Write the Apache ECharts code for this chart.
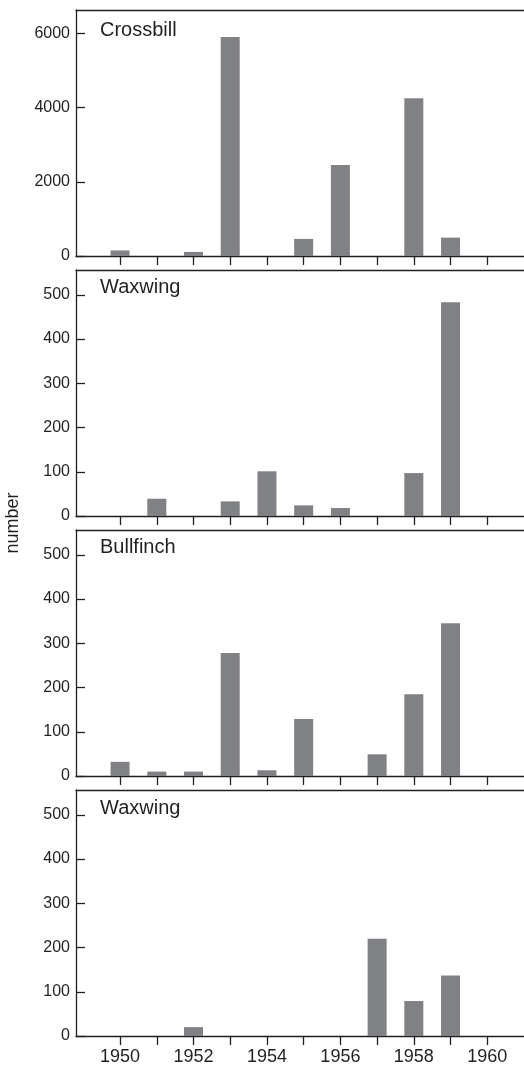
<!DOCTYPE html>
<html>
<head>
<meta charset="utf-8">
<script src="https://cdn.jsdelivr.net/npm/echarts@6/dist/echarts.min.js"></script>
<style>
html,body{margin:0;padding:0;background:#fff;}
#c{width:524px;height:1068px;}
</style>
</head>
<body>
<div id="c"></div>
<script>
// ---- data ----
const years = [1950, 1951, 1952, 1953, 1954, 1955, 1956, 1957, 1958, 1959, 1960];
const panelNames = ['Crossbill', 'Waxwing', 'Bullfinch', 'Waxwing'];
const crossbill = [150, 0, 110, 5900, 0, 460, 2450, 0, 4250, 495, 0];
const waxwingA  = [0, 39, 0, 33, 101, 24, 18, 0, 97, 483, 0];
const bullfinch = [32, 10, 10, 278, 13, 129, 0, 49, 185, 345, 0];
const waxwingB  = [0, 0, 20, 0, 0, 0, 0, 220, 79, 137, 0];
const yTicksCrossbill = [0, 2000, 4000, 6000];
const yTicksSmall = [0, 100, 200, 300, 400, 500];
const xTickYears = [1950, 1951, 1952, 1953, 1954, 1955, 1956, 1957, 1958, 1959, 1960];
const xLabelYears = [1950, 1952, 1954, 1956, 1958, 1960];
const yAxisLabel = 'number';

// ---- layout ----
const seriesValues = [crossbill, waxwingA, bullfinch, waxwingB];
const yMax = [6630, 556, 556, 556];
const yTicks = [yTicksCrossbill, yTicksSmall, yTicksSmall, yTicksSmall];
const tops = [10, 270, 530, 790];
const H = 246;
const LINE = '#231f20';
const FONT = 'Liberation Sans, Arial, Helvetica, sans-serif';
const XMIN = 1948.8, XMAX = 1961;

const grid = [], xAxis = [], yAxis = [], series = [], graphic = [];
seriesValues.forEach((vals, i) => {
  grid.push({left: 76, right: 0, top: tops[i], height: H});
  const last = i === seriesValues.length - 1;
  xAxis.push({
    type: 'value', gridIndex: i, min: XMIN, max: XMAX, position: 'bottom',
    axisLine: {show: true, onZero: false, lineStyle: {color: LINE, width: 1.3}},
    axisTick: {show: true, inside: false, length: 9, customValues: xTickYears,
               lineStyle: {color: LINE, width: 1.3}},
    axisLabel: {show: last, customValues: xLabelYears, margin: 12,
                fontSize: 18, fontFamily: FONT, color: LINE,
                formatter: v => String(v)},
    splitLine: {show: false}
  });
  xAxis.push({
    type: 'value', gridIndex: i, min: XMIN, max: XMAX, position: 'top',
    axisLine: {show: true, onZero: false, lineStyle: {color: LINE, width: 1.3}},
    axisTick: {show: false}, axisLabel: {show: false}, splitLine: {show: false}
  });
  yAxis.push({
    type: 'value', gridIndex: i, min: 0, max: yMax[i],
    axisLine: {show: true, onZero: false, lineStyle: {color: LINE, width: 1.3}},
    axisTick: {show: true, inside: true, length: 9, customValues: yTicks[i],
               lineStyle: {color: LINE, width: 1.3}},
    axisLabel: {customValues: yTicks[i], margin: 6, fontSize: 16,
                fontFamily: FONT, color: LINE, formatter: v => String(v)},
    splitLine: {show: false}
  });
  series.push({
    type: 'bar', xAxisIndex: i * 2, yAxisIndex: i,
    barWidth: 19,
    itemStyle: {color: '#808185'},
    data: years.map((y, k) => [y, vals[k]]),
    silent: true
  });
  const capMid = [31, 288, 548, 809][i];
  graphic.push({
    type: 'text', left: 100, top: capMid - 11,
    style: {text: panelNames[i], fontSize: 20, fontFamily: FONT, fill: LINE}
  });
});
graphic.push({
  type: 'text', x: 4, y: 523, rotation: Math.PI / 2,
  style: {text: yAxisLabel, fontSize: 18, fontFamily: FONT, fill: LINE,
          align: 'center', verticalAlign: 'top'}
});

const chart = echarts.init(document.getElementById('c'), null, {renderer: 'canvas'});
chart.setOption({
  animation: false,
  backgroundColor: '#fff',
  grid, xAxis, yAxis, series, graphic
});
</script>
</body>
</html>
